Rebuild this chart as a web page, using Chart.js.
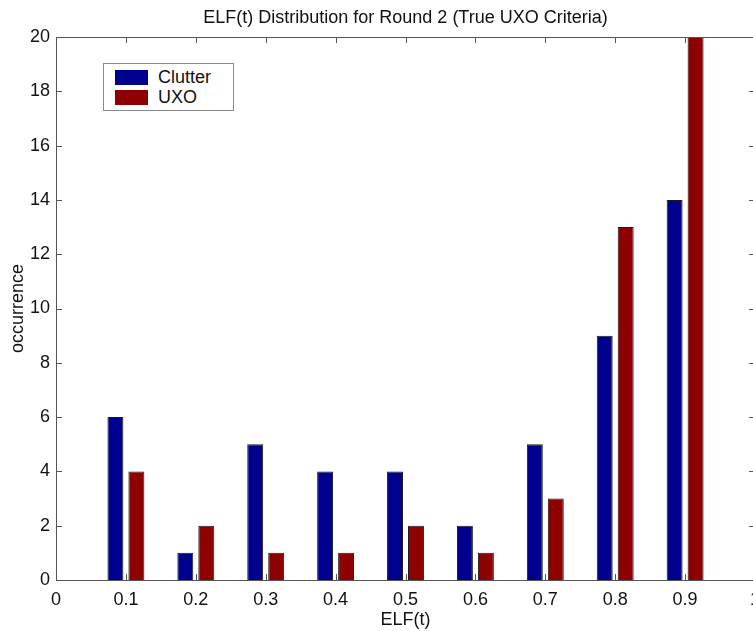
<!DOCTYPE html>
<html>
<head>
<meta charset="utf-8">
<script src="https://cdn.jsdelivr.net/npm/chart.js@4.4.1/dist/chart.umd.min.js"></script>
<style>
  html, body { margin: 0; padding: 0; background: #fff; overflow: hidden; }
  #wrap { position: relative; width: 753px; height: 631px; overflow: hidden; }
  #legend {
    position: absolute; left: 103px; top: 63px; width: 129px; height: 46px;
    border: 1px solid #8a8a8a; background: #fff;
    font-family: "Liberation Sans", Arial, sans-serif; font-size: 18px; color: #111;
  }
  #legend .row { position: absolute; left: 11px; height: 15px; line-height: 15px; white-space: nowrap; }
  #legend .sw { display: inline-block; width: 33px; height: 15px; vertical-align: top; margin-right: 10px; }
</style>
</head>
<body>
<div id="wrap">
  <canvas id="chart" width="770" height="631"></canvas>
  <div id="legend"></div>
</div>
<script>
const categories = [0.1, 0.2, 0.3, 0.4, 0.5, 0.6, 0.7, 0.8, 0.9];
const clutterValues = [6, 1, 5, 4, 4, 2, 5, 9, 14];
const uxoValues = [4, 2, 1, 1, 2, 1, 3, 13, 20];
const seriesNames = ["Clutter", "UXO"];
const seriesColors = ["#00008f", "#8f0000"];

const FONT = '"Liberation Sans", Arial, sans-serif';

function toPoints(values) {
  return categories.map((x, i) => ({ x, y: values[i] }));
}

// MATLAB-style box with ticks pointing into the plot
const frameTicks = {
  id: "frameTicks",
  afterDraw(chart) {
    const { ctx, chartArea: a, scales } = chart;
    const len = 6;
    ctx.save();
    ctx.strokeStyle = "#555";
    ctx.lineWidth = 1;
    ctx.strokeRect(Math.round(a.left) + 0.5, Math.round(a.top) + 0.5, Math.round(a.width), Math.round(a.height));
    ctx.beginPath();
    scales.x.ticks.forEach((t) => {
      const px = Math.round(scales.x.getPixelForValue(t.value)) + 0.5;
      ctx.moveTo(px, a.bottom); ctx.lineTo(px, a.bottom - len);
      ctx.moveTo(px, a.top); ctx.lineTo(px, a.top + len);
    });
    scales.y.ticks.forEach((t) => {
      const py = Math.round(scales.y.getPixelForValue(t.value)) + 0.5;
      ctx.moveTo(a.left, py); ctx.lineTo(a.left + len, py);
      ctx.moveTo(a.right, py); ctx.lineTo(a.right - len, py);
    });
    ctx.stroke();
    ctx.restore();
  },
};

const chart = new Chart(document.getElementById("chart"), {
  type: "bar",
  data: {
    datasets: [
      { label: seriesNames[0], data: toPoints(clutterValues), backgroundColor: seriesColors[0] },
      { label: seriesNames[1], data: toPoints(uxoValues), backgroundColor: seriesColors[1] },
    ].map((d) => ({
      ...d,
      borderColor: "#1a1a1a",
      borderWidth: 1,
      categoryPercentage: 0.6,
      barPercentage: 0.76,
    })),
  },
  options: {
    responsive: false,
    animation: false,
    layout: { padding: { left: 0, right: 15, top: 0, bottom: 0 } },
    plugins: {
      legend: { display: false },
      tooltip: { enabled: false },
      title: {
        display: true,
        fullSize: false,
        text: "ELF(t) Distribution for Round 2 (True UXO Criteria)",
        color: "#111",
        font: { family: FONT, size: 18, weight: "normal" },
        padding: { top: 7, bottom: 8.4 },
      },
    },
    scales: {
      x: {
        type: "linear",
        min: 0,
        max: 1,
        offset: false,
        grid: { display: false, drawTicks: false, offset: false },
        border: { display: false },
        ticks: {
          stepSize: 0.1,
          padding: 9,
          color: "#111",
          font: { family: FONT, size: 18 },
          callback: (v) => String(Math.round(v * 10) / 10),
        },
        title: {
          display: true,
          text: "ELF(t)",
          color: "#111",
          font: { family: FONT, size: 18 },
          padding: { top: 0, bottom: 0 },
        },
        afterFit: (s) => { s.height = 51; },
      },
      y: {
        min: 0,
        max: 20,
        grid: { display: false, drawTicks: false },
        border: { display: false },
        ticks: {
          stepSize: 2,
          padding: 6,
          color: "#111",
          font: { family: FONT, size: 18 },
        },
        title: {
          display: true,
          text: "occurrence",
          color: "#111",
          font: { family: FONT, size: 18 },
          padding: { top: 7, bottom: 0 },
        },
        afterFit: (s) => { s.width = 56; },
      },
    },
  },
  plugins: [frameTicks],
});

// legend box inside the axes, built from the datasets
const legend = document.getElementById("legend");
chart.data.datasets.forEach((ds, i) => {
  const row = document.createElement("div");
  row.className = "row";
  row.style.top = 6 + i * 20 + "px";
  const sw = document.createElement("span");
  sw.className = "sw";
  sw.style.background = ds.backgroundColor;
  row.appendChild(sw);
  row.appendChild(document.createTextNode(ds.label));
  legend.appendChild(row);
});
</script>
</body>
</html>
